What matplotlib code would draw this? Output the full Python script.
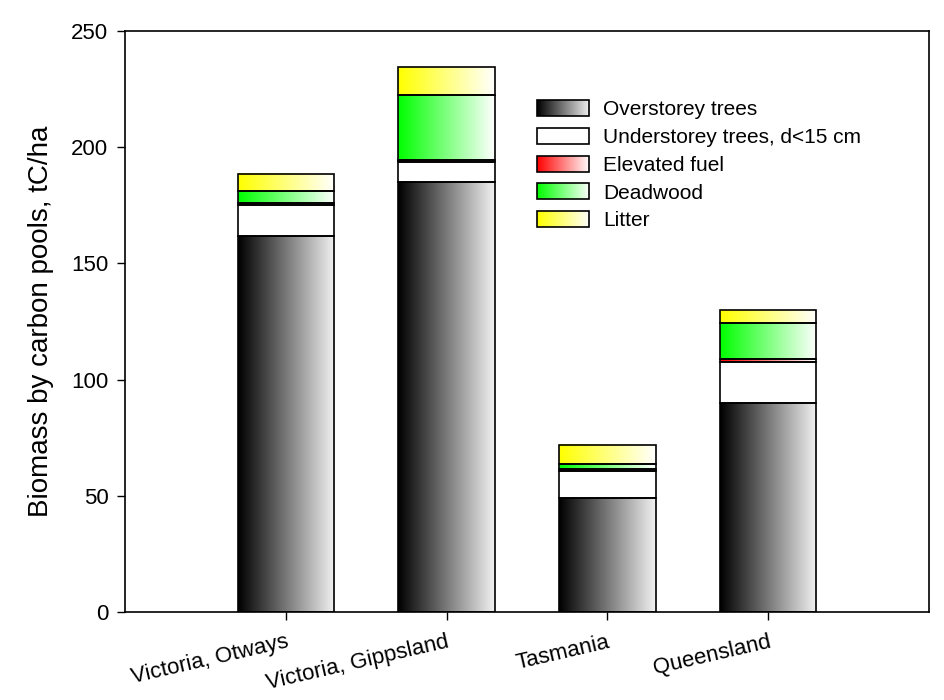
import numpy as np
import matplotlib
matplotlib.use('Agg')
import matplotlib.pyplot as plt
from matplotlib.colors import LinearSegmentedColormap
from matplotlib.image import BboxImage
from matplotlib.transforms import Bbox, TransformedBbox
from matplotlib.legend_handler import HandlerPatch
from matplotlib.patches import Rectangle

plt.rcParams['font.family'] = ['Liberation Sans', 'DejaVu Sans']

# datos (tC/ha)
sites = ['Victoria, Otways', 'Victoria, Gippsland', 'Tasmania', 'Queensland']
overstorey = [162, 185, 49, 90]
understorey = [13, 8.5, 11.5, 17.5]
elevated = [1, 1, 1, 1.5]
deadwood = [5, 28, 2, 15.5]
litter = [7.5, 12, 8.5, 5.5]

pools = ['Overstorey trees', 'Understorey trees, d<15 cm', 'Elevated fuel', 'Deadwood', 'Litter']
start_colors = ['black', 'white', 'red', '#00ff00', 'yellow']
end_colors = ['#f2f2f2', 'white', 'white', 'white', 'white']

grad = np.linspace(0, 1, 256).reshape(1, -1)


class GradientHandler(HandlerPatch):
    # rectángulo de la leyenda con degradado horizontal
    def __init__(self, cmap):
        super().__init__()
        self.cmap = cmap

    def create_artists(self, legend, orig_handle, xdescent, ydescent, width, height, fontsize, trans):
        bb = TransformedBbox(Bbox.from_bounds(-xdescent, -ydescent, width, height), trans)
        img = BboxImage(bb, cmap=self.cmap, interpolation='bilinear')
        img.set_data(grad)
        rect = Rectangle((-xdescent, -ydescent), width, height, facecolor='none',
                         edgecolor='black', lw=1.2, transform=trans)
        return [img, rect]


fig = plt.figure(figsize=(9.44, 7), dpi=100)
ax = fig.add_axes([0.1324, 0.1257, 0.8517, 0.83])

x = np.arange(1, len(sites) + 1)
bottom = np.zeros(len(sites))
handles, hmap = [], {}
for vals, c0, c1, name in zip([overstorey, understorey, elevated, deadwood, litter],
                              start_colors, end_colors, pools):
    vals = np.array(vals, dtype=float)
    cmap = LinearSegmentedColormap.from_list(name, [c0, c1])
    bars = ax.bar(x, vals, 0.6, bottom=bottom, facecolor='none', edgecolor='black', lw=1.2, zorder=3)
    for b in bars:
        ax.imshow(grad, cmap=cmap, aspect='auto', interpolation='bilinear', zorder=2,
                  extent=[b.get_x(), b.get_x() + b.get_width(), b.get_y(), b.get_y() + b.get_height()])
    bottom += vals
    h = Rectangle((0, 0), 1, 1)
    handles.append(h)
    hmap[h] = GradientHandler(cmap)

ax.set_xlim(0, 5)
ax.set_ylim(0, 250)
ax.set_aspect('auto')
ax.set_yticks(np.arange(0, 251, 50))
ax.set_xticks(x)
ax.set_xticklabels(sites, rotation=13, ha='right', rotation_mode='anchor')
ax.tick_params(axis='both', direction='out', length=6, width=1, labelsize=16, pad=6)
ax.tick_params(axis='x', pad=8)
ax.set_ylabel('Biomass by carbon pools, tC/ha', fontsize=20, labelpad=12)
for s in ax.spines.values():
    s.set_linewidth(1.2)

ax.legend(handles, pools, handler_map=hmap, frameon=False, fontsize=15,
          loc='upper left', bbox_to_anchor=(0.569, 0.857), bbox_transform=fig.transFigure,
          borderpad=0, borderaxespad=0, handlelength=2.5, handleheight=0.8,
          handletextpad=0.65, labelspacing=0.41)

fig.savefig('out.png', dpi=100)
